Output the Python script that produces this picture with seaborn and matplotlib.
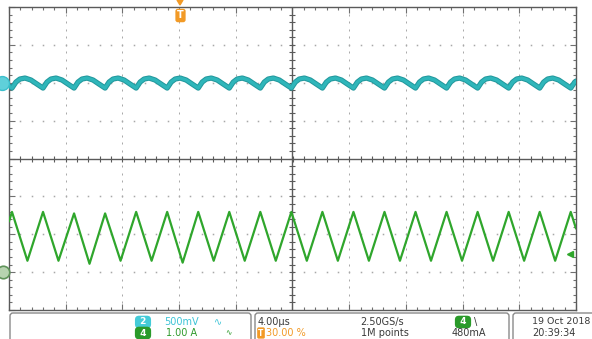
import numpy as np
import pandas as pd
import matplotlib
matplotlib.use("Agg")
import matplotlib.pyplot as plt
import matplotlib.patheffects as pe
from matplotlib.patches import FancyBboxPatch, Polygon
from matplotlib.transforms import IdentityTransform
import seaborn as sns

# ---------------------------------------------------------------------------
# Acquisition settings: 4 us/div, 10 divisions, trigger at 30 % of record
# ---------------------------------------------------------------------------
t_left_us, t_right_us = -12.0, 28.0
div_us = 4.0

# Channel 2: output voltage ripple (500 mV/div, position +2 div)
ch2_scale_mv = 500.0
ch2_position = 2.0
ch2_t_us = [
    -12.00,
    -11.79, -11.51, -11.23, -10.87, -10.45, -10.03,
    -9.60, -9.32, -9.04, -8.68, -8.26, -7.84,
    -7.41, -7.13, -6.85, -6.49, -6.07, -5.65,
    -5.22, -4.94, -4.66, -4.30, -3.88, -3.46,
    -3.03, -2.75, -2.47, -2.11, -1.69, -1.27,
    -0.84, -0.56, -0.28, 0.08, 0.50, 0.92,
    1.35, 1.63, 1.91, 2.27, 2.69, 3.11,
    3.54, 3.82, 4.10, 4.46, 4.88, 5.30,
    5.73, 6.01, 6.29, 6.65, 7.07, 7.49,
    7.92, 8.20, 8.48, 8.84, 9.26, 9.68,
    10.11, 10.39, 10.67, 11.03, 11.45, 11.87,
    12.30, 12.58, 12.86, 13.22, 13.64, 14.06,
    14.49, 14.77, 15.05, 15.41, 15.83, 16.25,
    16.68, 16.96, 17.24, 17.60, 18.02, 18.44,
    18.87, 19.15, 19.43, 19.79, 20.21, 20.63,
    21.06, 21.34, 21.62, 21.98, 22.40, 22.82,
    23.25, 23.53, 23.81, 24.17, 24.59, 25.01,
    25.44, 25.72, 26.00, 26.36, 26.78, 27.20,
    27.63, 27.91, 28.00,
]
ch2_mv = [
    -45,
    -70, 9, 49, 62, 36, -17,
    -70, 9, 49, 62, 36, -17,
    -70, 9, 49, 62, 36, -17,
    -70, 9, 49, 62, 36, -17,
    -70, 9, 49, 62, 36, -17,
    -70, 9, 49, 62, 36, -17,
    -70, 9, 49, 62, 36, -17,
    -70, 9, 49, 62, 36, -17,
    -70, 9, 49, 62, 36, -17,
    -70, 9, 49, 62, 36, -17,
    -70, 9, 49, 62, 36, -17,
    -70, 9, 49, 62, 36, -17,
    -70, 9, 49, 62, 36, -17,
    -70, 9, 49, 62, 36, -17,
    -70, 9, 49, 62, 36, -17,
    -70, 9, 49, 62, 36, -17,
    -70, 9, 49, 62, 36, -17,
    -70, 9, 49, 62, 36, -17,
    -70, 9, 22,
]

# Channel 4: inductor current (1 A/div, position -3 div)
ch4_scale_a = 1.0
ch4_position = -3.0
ch4_t_us = [
    -12.00, -11.79, -10.70, -9.60, -8.51, -7.41, -6.32, -5.22, -4.13,
    -3.03, -1.94, -0.84, 0.25, 1.35, 2.44, 3.54, 4.63, 5.73, 6.82,
    7.92, 9.01, 10.11, 11.20, 12.30, 13.39, 14.49, 15.58, 16.68, 17.77,
    18.87, 19.96, 21.06, 22.15, 23.25, 24.34, 25.44, 26.53, 27.63, 28.00,
]
ch4_a = [
    1.34, 1.59, 0.30, 1.59, 0.30, 1.55, 0.22, 1.55, 0.30,
    1.59, 0.30, 1.59, 0.25, 1.59, 0.30, 1.59, 0.30, 1.59, 0.30,
    1.59, 0.30, 1.59, 0.30, 1.59, 0.30, 1.59, 0.30, 1.59, 0.30,
    1.59, 0.30, 1.59, 0.30, 1.59, 0.30, 1.59, 0.30, 1.59, 1.15,
]
trigger_level_a = 0.48

# Readout texts
ch2_readout = "500mV"
ch4_readout = "1.00 A"
horiz_readout = "4.00\u00b5s"
trig_pos_readout = "30.00 %"
rate_readout = "2.50GS/s"
length_readout = "1M points"
trig_readout = "480mA"
date_readout = "19 Oct 2018"
time_readout = "20:39:34"

# ---------------------------------------------------------------------------
sns.set_style("white")
plt.rcParams["font.family"] = ["DejaVu Sans"]

W, H = 592, 339
fig = plt.figure(figsize=(W / 100, H / 100), dpi=100)
fig.patch.set_facecolor("white")

# graticule area in pixels: x 9..576, y 7..310
ax = fig.add_axes([9 / W, 1 - 310 / H, 567 / W, 303 / H])
ax.set_xlim(t_left_us, t_right_us)
ax.set_ylim(-4, 4)
ax.set_facecolor("white")

grid_col = "#a8a8a8"
frame_col = "#5a5a5a"

# dotted graticule
x_major = np.arange(t_left_us, t_right_us + 0.01, div_us)
x_minor = np.arange(t_left_us, t_right_us + 0.01, div_us / 5)
y_major = np.arange(-4, 4.01, 1.0)
y_minor = np.arange(-4, 4.01, 0.2)
x_center = (t_left_us + t_right_us) / 2
for xv in x_major[1:-1]:
    if abs(xv - x_center) < 1e-6:
        continue
    ax.plot(np.full_like(y_minor, xv), y_minor, ls="none", marker="|",
            ms=1.8, mew=0.7, color=grid_col, zorder=1)
for yv in y_major[1:-1]:
    if abs(yv) < 1e-6:
        continue
    ax.plot(x_minor, np.full_like(x_minor, yv), ls="none", marker="s",
            ms=1.1, mew=0, color=grid_col, zorder=1)

# center cross with minor tick marks
ax.axhline(0, color=frame_col, lw=1.0, zorder=1.5)
ax.axvline(x_center, color=frame_col, lw=1.0, zorder=1.5)
ax.plot(x_minor, np.zeros_like(x_minor), ls="none", marker="|", ms=4,
        mew=0.8, color=frame_col, zorder=1.5)
ax.plot(np.full_like(y_minor, x_center), y_minor, ls="none", marker="_",
        ms=4, mew=0.8, color=frame_col, zorder=1.5)

# border ticks
ax.set_xticks(x_major)
ax.set_xticks(x_minor, minor=True)
ax.set_yticks(y_major)
ax.set_yticks(y_minor, minor=True)
ax.tick_params(which="both", direction="in", top=True, right=True,
               bottom=True, left=True, labelbottom=False, labelleft=False,
               color="#707070", width=0.8)
ax.tick_params(which="major", length=4)
ax.tick_params(which="minor", length=2.5)
for sp in ax.spines.values():
    sp.set_color(frame_col)
    sp.set_linewidth(1.0)

# traces, scaled to screen divisions
ch2 = pd.DataFrame({"t": ch2_t_us,
                    "div": ch2_position + np.array(ch2_mv) / ch2_scale_mv})
ch4 = pd.DataFrame({"t": ch4_t_us,
                    "div": ch4_position + np.array(ch4_a) / ch4_scale_a})

sns.lineplot(data=ch2, x="t", y="div", ax=ax, sort=False, estimator=None,
             color="#2fb6ba", lw=2.4, zorder=3,
             path_effects=[pe.Stroke(linewidth=3.8, foreground="#22979c"),
                           pe.Normal()])
sns.lineplot(data=ch4, x="t", y="div", ax=ax, sort=False, estimator=None,
             color="#2fa62c", lw=1.6, zorder=3)
ax.set_xlabel("")
ax.set_ylabel("")

# trigger level arrow on the right
ax.plot([27.55], [ch4_position + trigger_level_a / ch4_scale_a], marker="<",
        ms=5, color="#2fa62c", ls="none", zorder=4)

# channel ground markers on the left edge
ax.plot([t_left_us - 0.52], [ch2_position], marker="o", ms=10, color="#5fd0da",
        mec="#3cbfcc", ls="none", clip_on=False, zorder=5)
ax.plot([t_left_us - 0.45], [ch4_position], marker="o", ms=9, mfc="#b7d3b0",
        mec="#5f935a", mew=1.2, ls="none", clip_on=False, zorder=5)

# ---------------------------------------------------------------------------
# overlay graphics in pixel coordinates
def fx(x):
    return x / W


def fy(y):
    return 1 - y / H


orange = "#f29a26"
# trigger position marker at the top
tri = Polygon([[177 / W, fy(0)], [183 / W, fy(0)], [180 / W, fy(5)]],
              closed=True, transform=fig.transFigure, color=orange)
fig.add_artist(tri)
fig.text(fx(180.5), fy(15.5), "T", color="white", fontsize=7, fontweight="bold",
         ha="center", va="center",
         bbox=dict(boxstyle="round,pad=0.18,rounding_size=0.25", fc=orange,
                   ec="none"))

# readout boxes along the bottom
box_col = "#8a8a8a"
for x0, x1 in [(10, 251), (255, 509), (513, 600)]:
    p = FancyBboxPatch((x0, -10), x1 - x0, 10 + (H - 313),
                       boxstyle="round,pad=0,rounding_size=3",
                       transform=IdentityTransform(), fc="none", ec=box_col,
                       lw=1.0)
    fig.add_artist(p)

cyan_txt = "#3cc3d6"
green_txt = "#2e9a2b"
dark_txt = "#3a3a3a"
fs = 7


def badge(x, y, s, col):
    fig.text(fx(x), fy(y), s, color="white", fontsize=6.5, fontweight="bold",
             ha="center", va="center",
             bbox=dict(boxstyle="round,pad=0.2,rounding_size=0.45", fc=col,
                       ec="none"))


badge(143, 322, " 2 ", "#44cbd8")
badge(143, 333, " 4 ", "#2a9a2a")
fig.text(fx(164), fy(322), ch2_readout, color=cyan_txt, fontsize=fs,
         va="center")
fig.text(fx(214), fy(322), "\u223f", color=cyan_txt, fontsize=fs, va="center")
fig.text(fx(166), fy(333), ch4_readout, color=green_txt, fontsize=fs,
         va="center")
fig.text(fx(225), fy(333), "\u223f", color=green_txt, fontsize=5.5,
         va="center")

fig.text(fx(258), fy(322), horiz_readout, color=dark_txt, fontsize=fs,
         va="center")
fig.text(fx(261), fy(333), "T", color="white", fontsize=5.5, fontweight="bold",
         ha="center", va="center",
         bbox=dict(boxstyle="round,pad=0.15,rounding_size=0.2", fc=orange,
                   ec="none"))
fig.text(fx(266), fy(333), trig_pos_readout, color=orange, fontsize=fs,
         va="center")

fig.text(fx(360), fy(322), rate_readout, color=dark_txt, fontsize=fs,
         va="center")
fig.text(fx(361), fy(333), length_readout, color=dark_txt, fontsize=fs,
         va="center")

badge(463, 322, " 4 ", "#2a9a2a")
fig.text(fx(474), fy(322), "\\", color=dark_txt, fontsize=fs, va="center")
fig.text(fx(452), fy(333), trig_readout, color=dark_txt, fontsize=fs,
         va="center")

fig.text(fx(532), fy(322), date_readout, color=dark_txt, fontsize=6.8,
         va="center")
fig.text(fx(532), fy(333), time_readout, color=dark_txt, fontsize=fs,
         va="center")

fig.savefig("out.png", dpi=100, facecolor="white")
